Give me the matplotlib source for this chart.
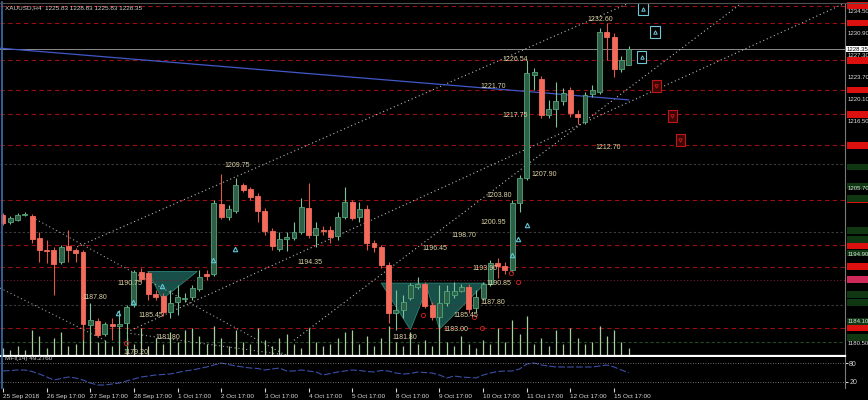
import numpy as np
import matplotlib.pyplot as plt
from matplotlib.patches import Rectangle, Polygon
from matplotlib.lines import Line2D

plt.rcParams['font.family'] = ['Liberation Sans', 'DejaVu Sans']

# XAUUSD H4 candles (price)
opens = [1201.4, 1200.2, 1200.6, 1201.4, 1201.2, 1197.6, 1195.7, 1195.7, 1193.7, 1196.3,
         1195.7, 1195.4, 1183.5, 1184.1, 1182.0, 1183.7, 1183.3, 1183.8, 1186.7, 1192.1,
         1191.9, 1188.5, 1188.2, 1185.6, 1187.2, 1187.7, 1188.0, 1189.4, 1191.8, 1191.8,
         1203.2, 1201.1, 1202.0, 1206.3, 1205.6, 1204.5, 1202.0, 1198.8, 1195.9, 1197.5,
         1197.6, 1198.6, 1202.5, 1198.1, 1198.9, 1198.9, 1198.0, 1201.1, 1203.5, 1201.1,
         1202.4, 1196.8, 1196.2, 1193.3, 1185.5, 1185.9, 1187.9, 1189.7, 1190.2, 1186.8,
         1184.8, 1187.1, 1188.4, 1189.0, 1189.7, 1186.3, 1187.9, 1190.2, 1193.6, 1193.1,
         1192.4, 1203.3, 1207.4, 1224.1, 1223.5, 1217.6, 1218.6, 1219.9, 1221.7, 1217.8,
         1216.5, 1221.1, 1221.4, 1231.1, 1230.3, 1225.1, 1225.83]
highs = [1201.7, 1201.2, 1201.7, 1201.8, 1201.5, 1198.6, 1197.3, 1196.2, 1196.5, 1198.9,
         1196.0, 1195.7, 1187.1, 1184.6, 1184.0, 1184.6, 1185.9, 1186.7, 1192.4, 1192.8,
         1192.3, 1189.2, 1188.7, 1189.2, 1190.0, 1188.7, 1190.0, 1192.4, 1192.4, 1203.8,
         1208.0, 1203.0, 1207.4, 1206.6, 1205.9, 1205.0, 1202.5, 1199.3, 1198.6, 1198.6,
         1200.2, 1204.1, 1206.6, 1200.2, 1199.6, 1199.6, 1201.9, 1205.9, 1203.8, 1203.5,
         1203.0, 1197.3, 1196.5, 1193.7, 1189.2, 1188.4, 1190.3, 1191.3, 1190.5, 1187.2,
         1190.0, 1190.0, 1190.5, 1190.2, 1190.2, 1189.2, 1190.5, 1194.1, 1194.4, 1193.7,
         1203.8, 1207.9, 1226.54, 1225.3, 1224.0, 1220.1, 1223.0, 1222.0, 1222.2, 1218.5,
         1221.4, 1222.5, 1231.8, 1232.6, 1230.98, 1227.2, 1228.83]
lows = [1199.8, 1199.9, 1200.4, 1201.2, 1196.8, 1193.7, 1193.6, 1188.4, 1193.4, 1193.7,
        1193.7, 1181.1, 1181.1, 1181.5, 1181.7, 1181.1, 1180.2, 1179.2, 1186.4, 1190.5,
        1187.6, 1187.6, 1184.9, 1184.6, 1185.1, 1187.2, 1187.6, 1189.0, 1190.8, 1191.5,
        1200.7, 1200.6, 1201.7, 1205.1, 1203.8, 1200.2, 1198.1, 1195.7, 1195.5, 1195.5,
        1197.3, 1198.3, 1197.6, 1196.2, 1198.1, 1196.8, 1197.3, 1200.7, 1200.6, 1200.2,
        1195.7, 1195.4, 1192.8, 1183.8, 1182.7, 1184.6, 1187.6, 1189.4, 1186.3, 1184.3,
        1183.0, 1186.6, 1187.9, 1188.9, 1185.45, 1185.6, 1187.6, 1189.8, 1191.1, 1191.8,
        1192.1, 1201.9, 1207.1, 1221.7, 1217.2, 1217.2, 1215.7, 1219.3, 1217.3, 1216.2,
        1216.2, 1220.6, 1221.1, 1226.6, 1223.8, 1224.6, 1225.83]
closes = [1200.1, 1200.9, 1201.4, 1201.5, 1197.5, 1195.7, 1195.5, 1193.4, 1196.2, 1195.7,
          1195.2, 1183.7, 1184.3, 1181.9, 1183.7, 1183.3, 1183.7, 1186.4, 1192.1, 1191.0,
          1188.5, 1188.0, 1185.6, 1187.1, 1188.0, 1187.9, 1189.5, 1191.3, 1191.5, 1203.3,
          1201.1, 1202.4, 1206.3, 1205.5, 1204.3, 1202.0, 1198.8, 1196.3, 1197.5, 1197.8,
          1198.6, 1202.7, 1198.1, 1199.3, 1198.8, 1197.8, 1201.1, 1203.5, 1200.9, 1202.4,
          1196.8, 1196.2, 1193.3, 1185.5, 1185.9, 1187.2, 1190.0, 1190.2, 1186.6, 1184.8,
          1187.1, 1189.0, 1189.0, 1189.7, 1186.1, 1188.0, 1190.2, 1193.6, 1193.1, 1192.4,
          1203.3, 1207.4, 1224.5, 1224.6, 1217.6, 1218.6, 1219.9, 1221.2, 1218.0, 1217.3,
          1220.9, 1221.7, 1231.1, 1230.3, 1225.1, 1226.6, 1228.35]

volumes = [8, 6, 10, 6, 26, 20, 8, 18, 24, 10, 12, 30, 22, 14, 16, 10, 26, 18, 12, 28,
           10, 18, 12, 24, 14, 26, 28, 20, 12, 30, 18, 10, 26, 14, 12, 28, 16, 10, 18, 22,
           12, 8, 28, 14, 10, 12, 18, 24, 26, 12, 20, 10, 18, 30, 14, 10, 24, 12, 16, 10,
           32, 14, 10, 20, 12, 8, 16, 12, 28, 14, 36, 22, 40, 12, 18, 10, 26, 12, 28, 18,
           12, 14, 30, 20, 26, 14, 8]

mfi = [54.7, 56.3, 57.9, 57.9, 53.2, 45.3, 35.8, 26.3, 31.0, 35.8,
       32.6, 26.3, 16.8, 10.5, 10.5, 13.7, 16.8, 23.2, 29.5, 35.8,
       38.9, 42.1, 43.7, 45.3, 50.0, 54.7, 57.9, 62.6, 67.4, 73.7,
       80.0, 75.3, 70.5, 67.4, 64.2, 62.6, 57.9, 61.1, 64.2, 54.7,
       54.7, 57.9, 54.7, 51.6, 42.1, 46.8, 51.6, 54.7, 57.9, 56.3,
       53.2, 51.6, 56.3, 54.7, 48.4, 45.3, 46.8, 51.6, 50.0, 48.4,
       42.1, 32.6, 38.9, 35.8, 34.2, 32.6, 42.1, 48.4, 53.2, 54.7,
       54.7, 61.1, 76.8, 80.0, 73.7, 70.5, 67.4, 67.4, 67.4, 67.4,
       67.4, 67.4, 70.5, 73.7, 67.4, 57.9, 49.3]

date_labels = ['25 Sep 2018', '26 Sep 17:00', '27 Sep 17:00', '28 Sep 17:00', '1 Oct 17:00',
               '2 Oct 17:00', '3 Oct 17:00', '4 Oct 17:00', '5 Oct 17:00', '8 Oct 17:00',
               '9 Oct 17:00', '10 Oct 17:00', '11 Oct 17:00', '12 Oct 17:00', '15 Oct 17:00']
date_pos = [0, 6, 12, 18, 24, 30, 36, 42, 48, 54, 60, 66, 72, 78, 84]

# support / resistance levels
red_levels = [1235.4, 1232.6, 1226.54, 1221.70, 1217.75, 1212.70, 1203.80, 1196.45, 1193.0, 1183.0]
dark_levels = [1209.6, 1198.6, 1186.8]
pink_level = 1190.85
green_level = 1180.8
bid = 1228.35
green_boxes = [1209.2, 1206.1, 1204.1, 1198.9, 1197.4, 1195.2, 1188.4, 1187.2, 1184.0, 1181.4]
axis_prices = [1234.50, 1230.90, 1227.30, 1223.70, 1220.10, 1216.50, 1205.70, 1194.90,
               1184.10, 1180.50]

# price labels on chart: (text, bar, price)
price_labels = [('1232.60', 80.3, 1233.1), ('1226.54', 68.7, 1226.6), ('1221.70', 65.6, 1222.2),
                ('1217.75', 68.6, 1217.5), ('1212.70', 81.5, 1212.4), ('1207.90', 72.6, 1208.0),
                ('1203.80', 66.5, 1204.6), ('1200.95', 65.6, 1200.2), ('1198.70', 61.6, 1198.0),
                ('1196.45', 57.6, 1195.85), ('1194.35', 40.5, 1193.7), ('1193.90', 64.5, 1192.7),
                ('1190.85', 66.5, 1190.3), ('1187.80', 65.6, 1187.1), ('1185.45', 61.9, 1185.1),
                ('1183.00', 60.5, 1182.7), ('1181.80', 53.6, 1181.4), ('1209.75', 30.5, 1209.5),
                ('1190.75', 15.8, 1190.3), ('1187.80', 10.9, 1187.9), ('1185.45', 18.6, 1185.1),
                ('1181.80', 20.9, 1181.5), ('1179.20', 16.6, 1179.1)]

# trend lines: (bar0, price0, bar1, price1)
channel_lines = [(10.2, 1196.2, 86.0, 1235.8), (17.5, 1182.6, 115.7, 1235.8),
                 (40.0, 1181.0, 101.5, 1235.8)]
down_lines = [(4.0, 1201.0, 39.0, 1178.5), (-0.4, 1189.5, 14.0, 1181.0),
              (17.0, 1182.2, 39.0, 1178.6)]
blue_line = (-0.4, 1228.5, 86.0, 1220.1)

# signal boxes at the right: (bar, price, colour)
signals = [(88.0, 1234.9, 'c'), (89.6, 1231.1, 'c'), (87.8, 1227.1, 'c'),
           (89.8, 1222.4, 'r'), (92.0, 1217.5, 'r'), (93.1, 1213.6, 'r')]
up_marks = [(15.8, 1185.5), (17.9, 1187.2), (21.9, 1189.8), (28.9, 1194.1),
            (31.9, 1195.9), (70.0, 1194.9), (70.8, 1197.5), (72.0, 1199.8)]
down_marks = [(57.7, 1185.1), (64.7, 1184.8), (65.8, 1183.0), (69.8, 1192.0),
              (70.8, 1190.5), (16.9, 1180.6)]

fig = plt.figure(figsize=(8.68, 4.0), dpi=100, facecolor='black')
ax = fig.add_axes([0.0, 0.11, 845 / 868, 0.8825])
ax.set_facecolor('black')
ax.set_xlim(-0.412, 115.74)
ax.set_ylim(1178.45, 1235.85)

for lv in red_levels:
    ax.axhline(lv, color='#9a1010', lw=0.8, ls=(0, (4, 3)))
for lv in dark_levels:
    ax.axhline(lv, color='#3c3c3c', lw=0.8, ls=(0, (2, 2)))
ax.axhline(pink_level, color='#7a1830', lw=0.8, ls=(0, (1, 2)))
ax.axhline(green_level, color='#1f4a22', lw=0.8, ls=(0, (3, 2)))
ax.axhline(bid, color='#8c8c8c', lw=0.7)

# trend lines
for x0, y0, x1, y1 in channel_lines:
    ax.plot([x0, x1], [y0, y1], color='#b8b8b8', lw=0.8, ls=(0, (1, 2.5)))
for x0, y0, x1, y1 in down_lines:
    ax.plot([x0, x1], [y0, y1], color='#a0a0a0', lw=0.8, ls=(0, (1, 2.5)))
ax.plot([blue_line[0], blue_line[2]], [blue_line[1], blue_line[3]], color='#4058c8', lw=0.9)

# pattern triangles
tri_fill = '#1b5a52'
ax.add_patch(Polygon([(19.9, 1192.2), (26.7, 1192.2), (21.9, 1187.7)], closed=True,
                     facecolor=tri_fill, edgecolor='#2f8a7a', lw=0.6, alpha=0.9))
ax.add_patch(Polygon([(52.0, 1190.3), (56.0, 1182.7), (58.3, 1189.5), (60.0, 1182.8),
                      (66.3, 1190.3)], closed=True, facecolor=tri_fill, edgecolor='#2f8a7a',
                     lw=0.6, alpha=0.9))

# volumes drawn at the bottom of the price panel
n = len(opens)
xs = np.arange(n)
vol_frac = np.array(volumes) / 353.0
ax.vlines(xs, 0, vol_frac, transform=ax.get_xaxis_transform(), color='#a7cf9c', lw=0.9)

# candles
for i in range(n):
    o, h, l, c = opens[i], highs[i], lows[i], closes[i]
    up = c >= o
    body_c = '#2e5f47' if up else '#f26b5b'
    edge_c = '#56a57a' if up else '#f26b5b'
    wick_c = '#7cc395' if up else '#e0584a'
    ax.vlines(i, l, h, color=wick_c, lw=0.8, zorder=3)
    bot = min(o, c)
    hgt = max(abs(c - o), 0.15)
    ax.add_patch(Rectangle((i - 0.34, bot), 0.68, hgt, facecolor=body_c, edgecolor=edge_c,
                           lw=0.6, zorder=4))

mx, my = zip(*up_marks)
ax.plot(mx, my, ls='none', marker='^', ms=3.2, mfc='none', mec='#5ec8d8', mew=0.8, zorder=5)
mx, my = zip(*down_marks)
ax.plot(mx, my, ls='none', marker='o', ms=3, mfc='none', mec='#c02020', mew=0.7, zorder=5)

for t, x, y in price_labels:
    ax.text(x, y, t, color='#ddd4a6', fontsize=5, ha='left', va='center', zorder=6)

for x, y, c in signals:
    ec = '#6fc7d8' if c == 'c' else '#c01818'
    ax.add_patch(Rectangle((x - 0.65, y - 1.0), 1.3, 2.0,
                           facecolor='black' if c == 'c' else '#3a0606',
                           edgecolor=ec, lw=0.8, zorder=6))
    ax.plot(x, y, marker='^' if c == 'c' else 'v', ms=2.5, mfc='none', mec=ec, mew=0.7, zorder=7)

ax.text(0.3, 1235.0, 'XAUUSD,H4  1225.83 1228.83 1225.83 1228.35', color='#d0d0d0',
        fontsize=4.6, ha='left', va='center')

ax.set_yticks([])
ax.tick_params(axis='x', bottom=False, labelbottom=False)
for sp in ['left', 'top']:
    ax.spines[sp].set_visible(False)
ax.spines['right'].set_color('#7a7a7a')
ax.spines['bottom'].set_color('white')
ax.spines['bottom'].set_linewidth(1.6)

# right price scale: coloured level boxes, then scale labels
tr = ax.get_yaxis_transform()
box_w = 22 / 845
for lv in red_levels:
    ax.add_patch(Rectangle((1.002, lv - 0.55), box_w, 1.1, transform=tr, facecolor='#dd1010',
                           edgecolor='none', clip_on=False))
ax.add_patch(Rectangle((1.002, pink_level - 0.55), box_w, 1.1, transform=tr, facecolor='#cf2a5a',
                       edgecolor='none', clip_on=False))
for lv in green_boxes:
    ax.add_patch(Rectangle((1.002, lv - 0.55), box_w, 1.1, transform=tr, facecolor='#0f3812',
                           edgecolor='none', clip_on=False))
for p in axis_prices:
    ax.text(1.003, p, '%.2f' % p, transform=tr, fontsize=4.3, color='#e0e0e0', va='center',
            ha='left', clip_on=False)
ax.text(1.002, bid, '%.2f' % bid, transform=tr, fontsize=4.3, color='black', va='center',
        ha='left', bbox=dict(boxstyle='square,pad=0.1', fc='white', ec='none'))

# MFI sub-window
ix = fig.add_axes([0.0, 0.03, 845 / 868, 0.0775])
ix.set_facecolor('black')
ix.set_xlim(-0.412, 115.74)
ix.plot(xs, mfi, color='#3c4fa8', lw=0.8, ls=(0, (6, 2)))
ix.axhline(80, color='#909090', lw=0.6, ls=(0, (1, 2)))
ix.axhline(20, color='#909090', lw=0.6, ls=(0, (1, 2)))
ix.set_ylim(1, 99)
ix.text(0.3, 93, 'MFI(14) 49.2760', color='#d0d0d0', fontsize=4.6, ha='left', va='center')
ix.yaxis.tick_right()
ix.set_yticks([80, 20])
ix.set_yticklabels(['80', '20'])
ix.tick_params(axis='y', colors='#d0d0d0', labelsize=5, length=2, pad=1)
ix.set_xticks(date_pos)
ix.set_xticklabels(date_labels, ha='left')
ix.tick_params(axis='x', colors='#d8d8d8', labelsize=4.6, length=3, pad=1)
for sp in ['left', 'top', 'bottom']:
    ix.spines[sp].set_visible(False)
ix.spines['right'].set_color('#7a7a7a')

fig.add_artist(Line2D([0.002, 0.002], [0.03, 0.995], color='#3a6fb0', lw=1.2))
fig.add_artist(Line2D([0.0, 1.0], [0.993, 0.993], color='#505050', lw=0.8))

fig.savefig('out.png', dpi=100, facecolor='black')
